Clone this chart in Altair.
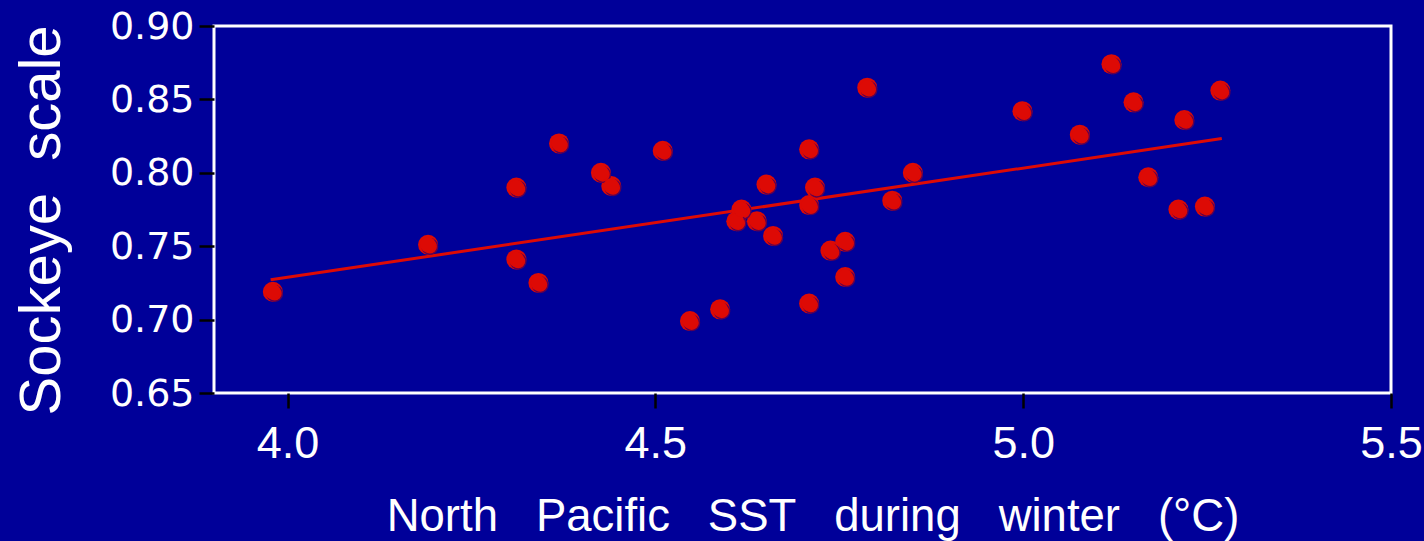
import altair as alt
import pandas as pd

# Data
sst = [3.980, 4.191, 4.311, 4.311, 4.341, 4.369, 4.426, 4.440, 4.510, 4.547,
       4.588, 4.610, 4.617, 4.638, 4.651, 4.660, 4.709, 4.709, 4.717, 4.709,
       4.738, 4.758, 4.758, 4.788, 4.822, 4.850, 4.999, 5.077, 5.120, 5.150,
       5.170, 5.211, 5.219, 5.247, 5.268]
sockeye = [0.719, 0.751, 0.790, 0.741, 0.725, 0.820, 0.800, 0.791, 0.815, 0.699,
           0.707, 0.767, 0.775, 0.767, 0.792, 0.757, 0.816, 0.778, 0.790, 0.711,
           0.747, 0.753, 0.729, 0.858, 0.781, 0.800, 0.842, 0.826, 0.874, 0.848,
           0.797, 0.775, 0.836, 0.777, 0.856]

fit_x = [3.977, 5.270]
fit_y = [0.7271, 0.8233]

x_ticks = [4.0, 4.5, 5.0, 5.5]
y_ticks = [0.65, 0.70, 0.75, 0.80, 0.85, 0.90]

x_title = "North\u00a0\u00a0\u00a0Pacific\u00a0\u00a0\u00a0SST\u00a0\u00a0\u00a0during\u00a0\u00a0\u00a0winter\u00a0\u00a0\u00a0(°C)"
y_title = "Sockeye\u00a0\u00a0scale"

BG = "#000099"
RED = "#DD0A05"

pts = pd.DataFrame({"sst": sst, "scale": sockeye})
fit = pd.DataFrame({"sst": fit_x, "scale": fit_y})

x_enc = alt.X(
    "sst:Q",
    scale=alt.Scale(domain=[3.9, 5.5], nice=False, zero=False),
    axis=alt.Axis(
        values=x_ticks, format=".1f", grid=False, domain=False,
        tickColor="#000000", tickSize=15, tickWidth=2.5, tickOpacity=1,
        labelFont="Liberation Sans", labelFontSize=45, labelColor="white",
        labelBaseline="alphabetic", labelPadding=49, labelFlush=False,
        labelOverlap=False,
        title=x_title, titleFont="Liberation Sans", titleFontSize=45.5,
        titleFontWeight="normal", titleColor="white",
        titleX=598.5, titleY=137, titleAlign="center", titleBaseline="alphabetic",
    ),
)
y_enc = alt.Y(
    "scale:Q",
    scale=alt.Scale(domain=[0.65, 0.90], nice=False, zero=False),
    axis=alt.Axis(
        values=y_ticks, format=".2f", grid=False, domain=False,
        tickColor="#000000", tickSize=15, tickWidth=2.5, tickOpacity=1,
        labelFont="DejaVu Sans", labelFontSize=38, labelColor="white",
        labelBaseline="alphabetic", labelOffset=12, labelPadding=5,
        labelFlush=False, labelOverlap=False,
        title=y_title, titleFont="Liberation Sans", titleFontSize=58,
        titleFontWeight="normal", titleColor="white", titleAngle=270,
        titleX=-155, titleY=194, titleAlign="center", titleBaseline="alphabetic",
    ),
)

line = alt.Chart(fit).mark_line(color=RED, strokeWidth=3).encode(x=x_enc, y=y_enc)

base = alt.Chart(pts).encode(x=x_enc, y=y_enc)
outer = base.mark_circle(size=400, color=RED, opacity=1)
ring = base.mark_point(shape="circle", size=240, filled=False, stroke="#5E0050",
                       strokeWidth=1.4, xOffset=1.8, yOffset=1.8, opacity=1)
inner = base.mark_circle(size=240, color=RED, opacity=1)

chart = alt.layer(line, outer, ring, inner).properties(
    width=1177, height=367,
    background=BG,
    autosize=alt.AutoSizeParams(type="none"),
    padding={"left": 214, "top": 26, "right": 33, "bottom": 148},
).configure_view(stroke="white", strokeWidth=3, fill=BG)

chart.save("out.html", embed_options={"renderer": "svg", "actions": False})
